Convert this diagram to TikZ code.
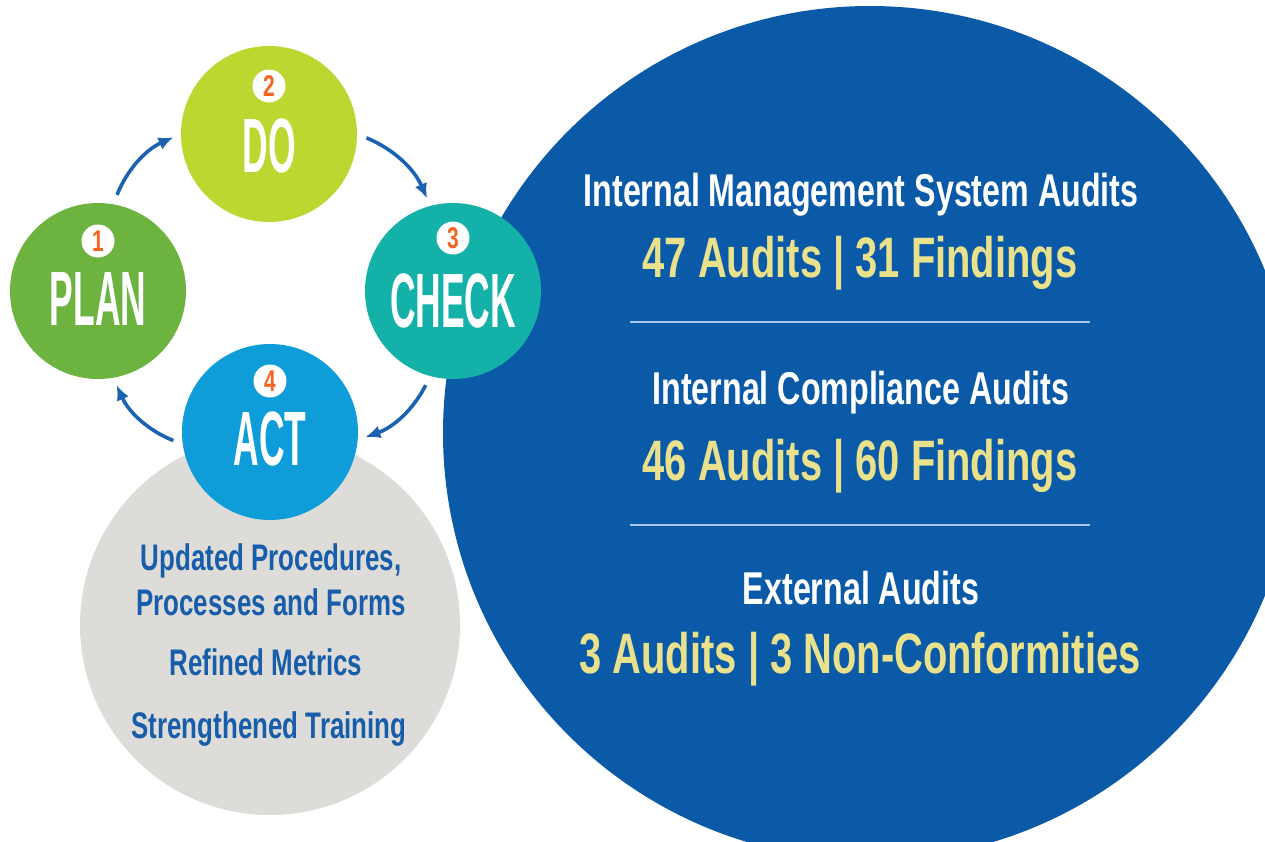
\documentclass[tikz,border=0pt]{standalone}
\usepackage{fontspec}
\setmainfont{Liberation Sans}
\newfontfamily\stagefont[FakeStretch=0.46]{Liberation Sans}
\newfontfamily\auditfont[FakeStretch=0.7]{Liberation Sans}
\usetikzlibrary{arrows.meta}

\definecolor{plangreen}{HTML}{6DB33F}
\definecolor{dolime}{HTML}{BED630}
\definecolor{checkteal}{HTML}{14B1A8}
\definecolor{actblue}{HTML}{0E9DD9}
\definecolor{poolblue}{HTML}{0B5AA8}
\definecolor{poolgrey}{HTML}{DDDCD9}
\definecolor{numorange}{HTML}{F26522}
\definecolor{cycblue}{HTML}{1B63B1}
\definecolor{countyellow}{HTML}{E9E18C}
\definecolor{itemblue}{HTML}{175DAA}
\definecolor{rulecolor}{HTML}{A9C8E8}

\begin{document}
\begin{tikzpicture}[x=1pt,y=-1pt,
	stage/.style={circle,minimum size=176pt,inner sep=0pt,fill=#1},
	stagename/.style={anchor=base,inner sep=0pt,text=white,font=\stagefont\bfseries\fontsize{77}{77}\selectfont},
	badge/.style={circle,minimum size=33pt,inner sep=0pt,fill=white,text=numorange,font=\auditfont\bfseries\fontsize{30}{30}\selectfont},
	cyc/.style={draw=cycblue,line width=3.6pt,-{Latex[length=15pt,width=13pt]},shorten <=10pt,shorten >=8pt},
	audithead/.style={anchor=base,inner sep=0pt,text=white,font=\auditfont\bfseries\fontsize{46}{46}\selectfont},
	auditcount/.style={anchor=base,inner sep=0pt,text=countyellow,font=\auditfont\bfseries\fontsize{57}{57}\selectfont},
	actitem/.style={anchor=base,inner sep=0pt,text=itemblue,font=\auditfont\bfseries\fontsize{37}{37}\selectfont}
	]

\useasboundingbox (0,0) rectangle (1265,841);
\fill[white] (0,0) rectangle (1265,841);
\clip (0,0) rectangle (1265,841);

% the two big pools
\node[circle,minimum size=854pt,inner sep=0pt,fill=poolblue] (results) at (870,433) {};
\node[circle,minimum size=380pt,inner sep=0pt,fill=poolgrey] (improve) at (270,625) {};

% PDCA circles
\node[stage=plangreen] (plan) at (98,291) {};
\node[stage=dolime] (do) at (269,134) {};
\node[stage=checkteal] (check) at (453,291) {};
\node[stage=actblue] (act) at (270,432) {};

\node[badge] (plan-no) at ([yshift=50pt]plan.center) {1};
\node[badge] (do-no) at ([yshift=48pt]do.center) {2};
\node[badge] (check-no) at ([yshift=53pt]check.center) {3};
\node[badge] (act-no) at ([yshift=51pt]act.center) {4};

\node[stagename] (plan-name) at ([yshift=-34pt]plan.center) {PLAN};
\node[stagename] (do-name) at ([yshift=-38pt]do.center) {DO};
\node[stagename] (check-name) at ([yshift=-36pt]check.center) {CHECK};
\node[stagename] (act-name) at ([yshift=-33pt]act.center) {ACT};

\draw[cyc] (plan.80) to[bend left=22] (do.180);
\draw[cyc] (do.0) to[bend left=22] (check.105);
\draw[cyc] (check.-105) to[bend left=22] (act.-5);
\draw[cyc] (act.188) to[bend left=22] (plan.-80);

% audit results
\node[audithead] (ims-head) at (861,206) {Internal Management System Audits};
\node[auditcount] (ims-count) at (860,277) {47 Audits | 31 Findings};
\draw[rulecolor,line width=2pt] (630,322) -- (1090,322);
\node[audithead] (ica-head) at (861,404) {Internal Compliance Audits};
\node[auditcount] (ica-count) at (860,480) {46 Audits | 60 Findings};
\draw[rulecolor,line width=2pt] (630,525) -- (1090,525);
\node[audithead] (ext-head) at (861,604) {External Audits};
\node[auditcount] (ext-count) at (860,673) {3 Audits | 3 Non-Conformities};

% improvements
\node[actitem] (upd-a) at (271,570) {Updated Procedures,};
\node[actitem] (upd-b) at (271,615) {Processes and Forms};
\node[actitem] (refined) at (266,675) {Refined Metrics};
\node[actitem] (strength) at (269,738) {Strengthened Training};

\end{tikzpicture}
\end{document}
